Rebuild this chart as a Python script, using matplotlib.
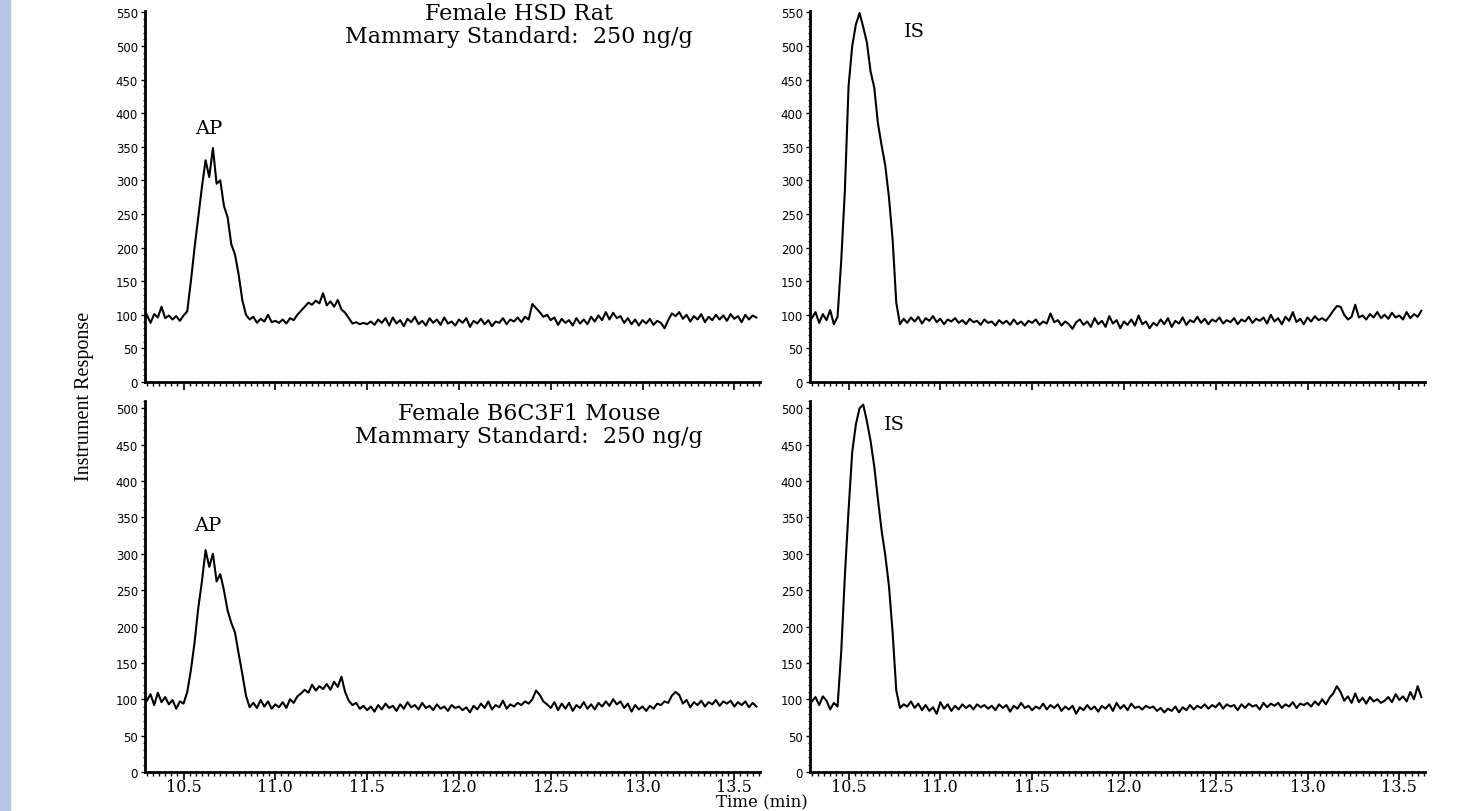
import numpy as np
import matplotlib
matplotlib.use("Agg")
import matplotlib.pyplot as plt
from matplotlib.ticker import MultipleLocator
from matplotlib.patches import Rectangle

# sampling of the traces (min)
t_start = 10.30
t_step = 0.02

# top left: Female HSD Rat, AP channel
rat_ap = [100, 88, 101, 96, 112, 95, 99, 93, 98, 91,
          99, 105, 150, 200, 245, 290, 330, 305, 348, 295,
          300, 262, 245, 205, 190, 160, 122, 100, 93, 97,
          88, 94, 90, 100, 89, 91, 88, 93, 87, 95,
          92, 100, 106, 112, 118, 115, 121, 117, 132, 114,
          120, 112, 122, 108, 103, 95, 87, 89, 86, 88,
          86, 90, 85, 93, 88, 95, 84, 96, 87, 92,
          83, 94, 89, 97, 86, 91, 84, 95, 88, 93,
          85, 96, 87, 90, 84, 93, 88, 95, 82, 91,
          87, 94, 86, 92, 83, 90, 88, 95, 86, 93,
          90, 96, 89, 97, 93, 116, 110, 104, 97, 100,
          92, 96, 85, 94, 88, 92, 84, 95, 87, 93,
          86, 97, 90, 99, 92, 104, 93, 103, 95, 98,
          88, 95, 86, 93, 84, 92, 87, 94, 85, 91,
          88, 80, 92, 102, 98, 104, 94, 100, 90, 98,
          93, 101, 89, 97, 92, 100, 93, 99, 91, 101,
          94, 98, 89, 100, 93, 99, 96]

# top right: Female HSD Rat, IS channel
rat_is = [95, 104, 88, 101, 92, 107, 86, 97, 180, 285,
          440, 500, 532, 549, 528, 505, 462, 438, 385, 352,
          322, 275, 212, 118, 86, 94, 88, 96, 90, 97,
          87, 95, 91, 98, 89, 94, 86, 93, 90, 95,
          88, 92, 86, 94, 89, 91, 85, 93, 88, 90,
          84, 92, 87, 91, 85, 93, 86, 90, 84, 91,
          88, 93, 85, 90, 87, 102, 89, 92, 84, 90,
          86, 79, 89, 93, 85, 90, 82, 95, 86, 91,
          82, 98, 87, 92, 80, 90, 85, 93, 84, 99,
          86, 90, 80, 88, 84, 93, 86, 95, 82, 91,
          87, 96, 85, 92, 89, 97, 88, 94, 86, 93,
          90, 96, 87, 92, 89, 95, 86, 93, 90, 97,
          88, 94, 91, 96, 87, 100, 90, 95, 86, 97,
          91, 104, 89, 94, 86, 96, 90, 98, 92, 95,
          91, 98, 106, 113, 112, 100, 93, 97, 115, 96,
          99, 93, 101, 96, 104, 95, 100, 94, 103, 96,
          99, 93, 104, 95, 101, 97, 106]

# bottom left: Female B6C3F1 Mouse, AP channel
mouse_ap = [98, 107, 92, 109, 96, 103, 93, 99, 87, 97,
            94, 110, 140, 178, 225, 262, 305, 282, 300, 262,
            272, 250, 222, 205, 192, 163, 135, 105, 89, 95,
            88, 99, 90, 97, 87, 93, 89, 96, 88, 100,
            95, 104, 108, 113, 109, 120, 112, 118, 114, 121,
            113, 124, 117, 131, 110, 98, 92, 95, 87, 91,
            85, 90, 83, 92, 86, 94, 88, 91, 84, 93,
            87, 96, 89, 92, 86, 95, 88, 91, 85, 93,
            87, 90, 84, 92, 88, 90, 85, 89, 82, 91,
            86, 94, 88, 97, 86, 92, 89, 98, 87, 93,
            90, 95, 92, 97, 94, 100, 112, 106, 97, 93,
            88, 96, 85, 94, 87, 95, 84, 92, 88, 96,
            87, 93, 86, 95, 90, 97, 91, 100, 93, 97,
            88, 94, 83, 92, 86, 90, 84, 91, 87, 94,
            92, 97, 95, 105, 110, 106, 94, 99, 89, 96,
            92, 98, 90, 96, 93, 99, 91, 97, 94, 98,
            90, 96, 92, 97, 89, 95, 90]

# bottom right: Female B6C3F1 Mouse, IS channel
mouse_is = [97, 103, 92, 104, 98, 86, 95, 90, 165, 270,
            360, 440, 478, 500, 505, 482, 455, 420, 375, 332,
            298, 256, 192, 112, 88, 93, 90, 97, 88, 94,
            85, 92, 84, 89, 80, 96, 87, 93, 84, 91,
            86, 93, 88, 92, 86, 93, 89, 92, 87, 91,
            85, 93, 88, 92, 83, 91, 87, 95, 88, 91,
            85, 90, 87, 94, 86, 92, 88, 93, 84, 90,
            86, 91, 80, 89, 85, 92, 86, 90, 83, 91,
            87, 93, 84, 95, 87, 92, 85, 94, 88, 90,
            86, 91, 88, 90, 84, 88, 82, 87, 84, 90,
            82, 89, 85, 92, 86, 91, 88, 93, 87, 92,
            89, 95, 87, 93, 90, 92, 85, 93, 88, 94,
            90, 92, 86, 95, 89, 94, 91, 95, 88, 93,
            90, 96, 88, 94, 92, 95, 90, 97, 92, 100,
            93, 102, 108, 118, 110, 98, 104, 95, 108, 96,
            102, 94, 103, 97, 100, 95, 98, 103, 96, 107,
            99, 104, 97, 110, 100, 118, 103]

x_ticks = [10.5, 11.0, 11.5, 12.0, 12.5, 13.0, 13.5]
x_lim = (10.29, 13.64)
top_ylim = (0, 552)
bottom_ylim = (0, 510)

title_rat = "Female HSD Rat\nMammary Standard:  250 ng/g"
title_mouse = "Female B6C3F1 Mouse\nMammary Standard:  250 ng/g"

serif = "DejaVu Serif"


def times(values):
    return t_start + t_step * np.arange(len(values))


def chrom(ax, values, ylim, show_labels):
    ax.plot(times(values), values, color="black", lw=1.5)
    ax.set_xlim(*x_lim)
    ax.set_ylim(*ylim)
    ax.spines["top"].set_visible(False)
    ax.spines["right"].set_visible(False)
    ax.spines["left"].set_linewidth(2)
    ax.spines["bottom"].set_linewidth(2)
    ax.set_xticks(x_ticks)
    ax.xaxis.set_minor_locator(MultipleLocator(0.5 / 15))
    ax.yaxis.set_major_locator(MultipleLocator(50))
    ax.yaxis.set_minor_locator(MultipleLocator(10))
    ax.tick_params(axis="x", which="major", length=6, width=1.2, direction="out")
    ax.tick_params(axis="x", which="minor", length=3, width=1, direction="out")
    ax.tick_params(axis="y", which="major", length=3, width=1, labelsize=8.5, pad=2)
    ax.tick_params(axis="y", which="minor", length=1.5, width=0.8)
    if show_labels:
        ax.set_xticklabels(["%.1f" % v for v in x_ticks], fontfamily=serif, fontsize=11.5)
        ax.tick_params(axis="x", pad=-2)
    else:
        ax.set_xticklabels([])


fig = plt.figure(figsize=(14.57, 8.12), dpi=100)
fig.patches.append(Rectangle((0, 0), 0.007, 1, transform=fig.transFigure,
                             color="#b6c4e8", zorder=0))

W = 615 / 1457
H = 371 / 812
ax1 = fig.add_axes([145 / 1457, 1 - 383 / 812, W, H])
ax2 = fig.add_axes([810 / 1457, 1 - 383 / 812, W, H])
ax3 = fig.add_axes([145 / 1457, 1 - 773 / 812, W, H])
ax4 = fig.add_axes([810 / 1457, 1 - 773 / 812, W, H])

chrom(ax1, rat_ap, top_ylim, False)
chrom(ax2, rat_is, top_ylim, False)
chrom(ax3, mouse_ap, bottom_ylim, True)
chrom(ax4, mouse_is, bottom_ylim, True)

fig.text(519 / 1457, 1 - 3 / 812, title_rat, ha="center", va="top",
         fontfamily=serif, fontsize=16, linespacing=1.05)
fig.text(529 / 1457, 1 - 403 / 812, title_mouse, ha="center", va="top",
         fontfamily=serif, fontsize=16, linespacing=1.05)

ax1.text(10.64, 378, "AP", ha="center", va="center", fontfamily=serif, fontsize=14)
ax3.text(10.63, 340, "AP", ha="center", va="center", fontfamily=serif, fontsize=14)
ax2.text(10.86, 522, "IS", ha="center", va="center", fontfamily=serif, fontsize=14)
ax4.text(10.75, 479, "IS", ha="center", va="center", fontfamily=serif, fontsize=14)

fig.text(85 / 1457, 1 - 396 / 812, "Instrument Response", rotation=90, ha="center",
         va="center", fontfamily="Liberation Serif", fontsize=14.5)
fig.text(762 / 1457, 1 / 812, "Time (min)", ha="center", va="bottom",
         fontfamily=serif, fontsize=12)

fig.savefig("out.png", dpi=100)
